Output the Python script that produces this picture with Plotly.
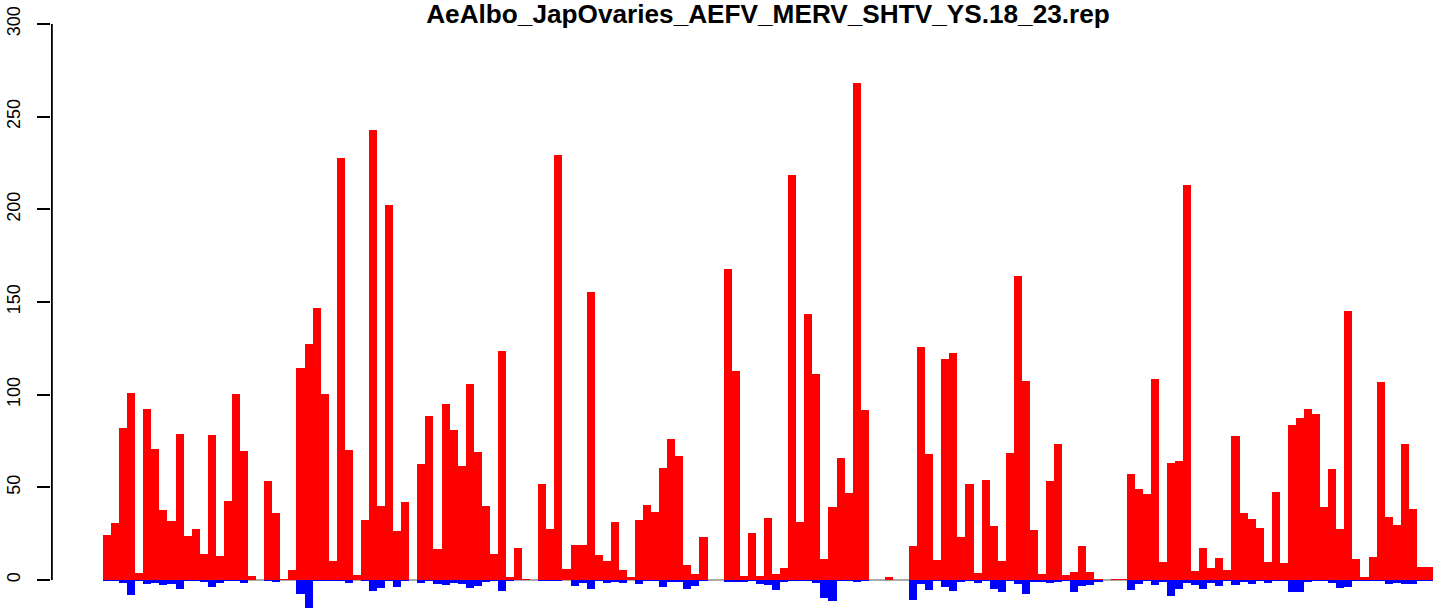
import plotly.graph_objects as go

# values (165 consecutive bins)
pos_counts = [
    24.3, 30.8, 82, 101, 3.8, 92.3, 70.7, 37.8, 31.8, 78.8,
    23.7, 27.5, 14, 78.2, 13, 42.6, 100.4, 69.6, 2.2, 0,
    53.4, 36.2, 0.5, 5.4, 114.4, 127.4, 146.8, 100.4, 10.3, 227.7,
    70.1, 2.7, 32.4, 242.8, 39.9, 202.4, 26.4, 42.1, 0, 62.6,
    88.5, 16.7, 95, 80.9, 61.5, 105.8, 69, 39.9, 14, 123.6,
    1.6, 17.3, 0.5, 0, 51.8, 27.5, 229.4, 5.9, 18.9, 18.9,
    155.4, 13.5, 10.3, 31.3, 5.4, 1.6, 32.4, 40.5, 36.7, 60.4,
    76.1, 66.9, 8.1, 3.2, 23.2, 0, 0, 168.0, 112.8, 2.2,
    25.4, 2.2, 33.5, 3.2, 6.5, 218.6, 31.3, 143.5, 111.2, 11.3,
    39.4, 65.8, 46.9, 268.2, 91.7, 0, 0, 1.6, 0, 0,
    18.3, 125.5, 68, 10.8, 119.3, 122.5, 23.2, 51.8, 3.8, 54,
    29.1, 10.3, 68.5, 164.1, 107.4, 27, 3.2, 53.4, 73.4, 2.7,
    4.3, 18.3, 4.3, 0.5, 0, 0.5, 0.5, 57.2, 49.1, 46.4,
    108.5, 9.7, 63.1, 64.2, 213.2, 4.9, 17.3, 6.5, 11.9, 5.4,
    77.7, 36.2, 32.9, 28, 9.7, 47.5, 9.2, 83.6, 87.4, 92.3,
    89.6, 39.4, 59.9, 27.5, 145.2, 11.3, 1.6, 12.4, 106.8, 34,
    29.7, 73.4, 38.3, 7.0, 7.0,
]

neg_counts = [
    0.5, 0.4, 1.5, 8, 0.5, 2.2, 1.4, 2.7, 2.2, 4.9,
    0.5, 0.5, 1.1, 3.8, 1.6, 0.5, 0.5, 1.6, 0, 0,
    0.5, 1.1, 0, 0, 7.6, 15.1, 0.5, 0.5, 0.5, 0.5,
    1.4, 0, 0.5, 5.9, 4.3, 0.5, 3.8, 0.5, 0, 1.6,
    0.5, 2.2, 2.7, 1.6, 2.2, 4.3, 3.2, 1.1, 0.5, 5.9,
    0.5, 0, 0, 0, 0.5, 0.5, 0.5, 0, 3.2, 1.6,
    4.9, 0.5, 1.6, 1.1, 1.6, 0, 2.2, 0.5, 0.5, 3.8,
    1.1, 1.1, 4.9, 3.2, 0.5, 0, 0, 1, 1, 1,
    0.5, 2.2, 2.7, 5.4, 1.1, 0.5, 0.5, 0.5, 1.6, 9.7,
    11.3, 0.5, 0.5, 1, 0.5, 0, 0, 0, 0, 0,
    10.8, 2.2, 5.4, 0.5, 3.8, 5.9, 1.1, 0.5, 1.6, 0.5,
    4.9, 6.5, 0.5, 2.2, 7.6, 1.1, 1.1, 1.6, 1.1, 0.5,
    6.5, 3.2, 2.7, 1.1, 0, 0, 0, 5.4, 2.2, 0.5,
    2.7, 1.1, 8.6, 4.9, 1.6, 2.7, 4.9, 1.6, 3.2, 0.5,
    2.7, 1.1, 2.2, 0.5, 1.6, 0.5, 0.5, 6.5, 6.5, 1.1,
    0.5, 0.5, 1.6, 4.3, 3.8, 0.5, 0.5, 0.5, 0.5, 2.2,
    1.6, 2.2, 2.2, 0.5, 0.5,
]

y_ticks = [0, 50, 100, 150, 200, 250, 300]
title_text = "AeAlbo_JapOvaries_AEFV_MERV_SHTV_YS.18_23.rep"

positions = list(range(len(pos_counts)))
neg_values = [-v for v in neg_counts]

fig = go.Figure()
fig.add_trace(go.Bar(x=positions, y=pos_counts, marker=dict(color="#ff0000", line=dict(width=0)),
                     width=1.0, showlegend=False, hoverinfo="skip"))
fig.add_trace(go.Bar(x=positions, y=neg_values, marker=dict(color="#0000ff", line=dict(width=0)),
                     width=1.0, showlegend=False, hoverinfo="skip"))

# grey zero line under the bars
fig.add_shape(type="line", xref="x", yref="y", x0=-0.5, x1=len(pos_counts) - 0.5, y0=0, y1=0,
              line=dict(color="#aaaaaa", width=2), layer="below")
# y axis line spanning only 0..300 (slightly inside the plot edge so it is not clipped)
fig.add_shape(type="line", xref="x", yref="y", x0=-6.85, x1=-6.85, y0=y_ticks[0], y1=y_ticks[-1],
              line=dict(color="black", width=2), layer="above")

fig.update_layout(
    width=1439, height=609,
    margin=dict(l=51, r=6, t=22, b=0, pad=0, autoexpand=False),
    paper_bgcolor="white", plot_bgcolor="white",
    barmode="overlay", bargap=0,
    font=dict(family="Liberation Sans, Arial, sans-serif", color="black"),
    title=dict(text="<b>" + title_text + "</b>", x=768 / 1439, xref="container", xanchor="center",
               y=1 - 14 / 609, yref="container", yanchor="middle", automargin=False,
               font=dict(size=26.2, family="Liberation Sans, Arial, sans-serif", color="black")),
    xaxis=dict(range=[-6.95, 164.5], showgrid=False, zeroline=False, showticklabels=False,
               ticks="", showline=False, fixedrange=True, automargin=False),
    yaxis=dict(range=[-15.65, 301.08], tickvals=y_ticks, ticktext=[str(t) for t in y_ticks],
               showgrid=False, zeroline=False, showline=False, ticks="outside", ticklen=13,
               tickwidth=2, tickcolor="#000000", tickangle=-90, automargin=False,
               tickfont=dict(size=18, family="Liberation Sans, Arial, sans-serif", color="black"),
               ticklabelstandoff=10, fixedrange=True),
)

fig.write_html("out.html", config={"displayModeBar": False},
               post_script="document.body.style.margin='0';")
